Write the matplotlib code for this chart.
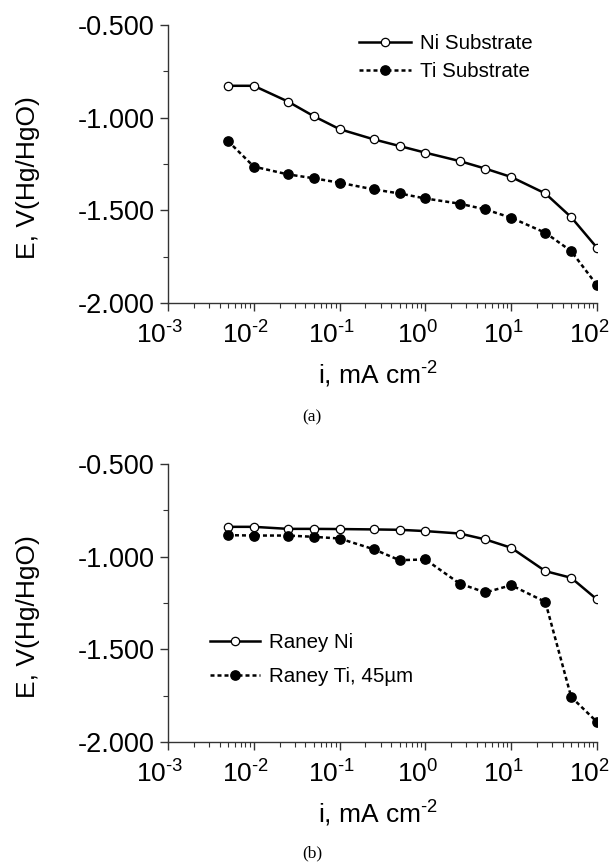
import numpy as np
import matplotlib
matplotlib.use("Agg")
import matplotlib.pyplot as plt
import matplotlib.transforms as mtransforms
from matplotlib.ticker import MultipleLocator, FormatStrFormatter, LogLocator, FuncFormatter

plt.rcParams['font.family'] = ['Liberation Sans', 'DejaVu Sans']
plt.rcParams['axes.unicode_minus'] = False
plt.rcParams['mathtext.fontset'] = 'custom'
plt.rcParams['mathtext.rm'] = 'Liberation Sans'
plt.rcParams['mathtext.it'] = 'Liberation Sans'

# current density, mA cm-2
current = [0.005, 0.01, 0.025, 0.05, 0.1, 0.25, 0.5, 1, 2.5, 5, 10, 25, 50, 100]

# (a) substrates
ni_substrate = [-0.828, -0.828, -0.913, -0.992, -1.062, -1.117, -1.153, -1.189,
                -1.234, -1.275, -1.320, -1.409, -1.537, -1.702]
ti_substrate = [-1.126, -1.264, -1.306, -1.327, -1.351, -1.387, -1.409, -1.436,
                -1.464, -1.495, -1.540, -1.621, -1.720, -1.904]

# (b) Raney coatings
raney_ni = [-0.839, -0.839, -0.850, -0.850, -0.851, -0.853, -0.855, -0.862,
            -0.875, -0.907, -0.952, -1.078, -1.114, -1.231]
raney_ti = [-0.884, -0.886, -0.886, -0.893, -0.902, -0.960, -1.019, -1.015,
            -1.145, -1.193, -1.154, -1.244, -1.757, -1.892]

W, H = 614, 864
fig = plt.figure(figsize=(W / 100, H / 100), dpi=100)


def make_axes(top_px, bottom_px):
    left, right = 168, 597
    ax = fig.add_axes([left / W, 1 - bottom_px / H, (right - left) / W,
                       (bottom_px - top_px) / H])
    return ax


def pow_label(v, pos):
    e = int(round(np.log10(v)))
    return r'$10^{\text{%d}}$' % e


def style(ax):
    ax.set_xscale('log')
    ax.set_xlim(1e-3, 1e2)
    ax.set_ylim(-2.0, -0.5)
    for s in ['top', 'right']:
        ax.spines[s].set_visible(False)
    for s in ['left', 'bottom']:
        ax.spines[s].set_color('#333333')
        ax.spines[s].set_linewidth(1.0)
    ax.yaxis.set_major_locator(MultipleLocator(0.5))
    ax.yaxis.set_minor_locator(MultipleLocator(0.25))
    ax.yaxis.set_major_formatter(FormatStrFormatter('%.3f'))
    ax.xaxis.set_major_locator(LogLocator(base=10, numticks=10))
    ax.xaxis.set_minor_locator(LogLocator(base=10, subs=np.arange(2, 10), numticks=20))
    ax.xaxis.set_major_formatter(FuncFormatter(pow_label))
    ax.tick_params(which='major', direction='out', length=6, width=1,
                   color='#333333', labelsize=19.5, pad=3.5)
    ax.tick_params(which='minor', direction='out', length=3.5, width=0.8,
                   color='#333333')
    ax.tick_params(axis='x', which='major', labelsize=19, pad=7)
    ax.set_ylabel('E, V(Hg/HgO)', fontsize=19)
    ax.set_xlabel('i, mA cm$^{\\text{-2}}$', fontsize=19)
    ax.yaxis.set_label_coords(-0.298, 0.45)
    ax.xaxis.set_label_coords(0.49, -0.205)
    # labels sit a little left of their ticks in the original
    shift = mtransforms.ScaledTranslation(-8 / 100, 0, fig.dpi_scale_trans)
    for lab in ax.get_xticklabels():
        lab.set_transform(lab.get_transform() + shift)


solid_kw = dict(color='black', linestyle='-', linewidth=1.8, marker='o',
                markersize=6, markerfacecolor='white',
                markeredgecolor='black', markeredgewidth=0.9)
dot_kw = dict(color='black', linestyle=(0, (1.6, 1.2)), linewidth=1.8,
              marker='o', markersize=6.7, markerfacecolor='black',
              markeredgecolor='black')

# (a)
ax1 = make_axes(25, 303)
style(ax1)
ax1.plot(current, ni_substrate, label='Ni Substrate', **solid_kw)
ax1.plot(current, ti_substrate, label='Ti Substrate', **dot_kw)
ax1.legend(loc='upper left', bbox_to_anchor=(0.445, 0.968), frameon=False,
           fontsize=14.8, handlelength=2.55, handletextpad=0.4,
           labelspacing=0.45, borderpad=0, borderaxespad=0)
fig.text(312 / W, 1 - 417 / H, '(a)', ha='center', va='center',
         family='Liberation Serif', fontsize=12.5)

# (b)
ax2 = make_axes(464, 742)
style(ax2)
ax2.plot(current, raney_ni, label='Raney Ni', **solid_kw)
ax2.plot(current, raney_ti, label='Raney Ti, 45µm', **dot_kw)
ax2.legend(loc='upper left', bbox_to_anchor=(0.098, 0.392), frameon=False,
           fontsize=14.8, handlelength=2.45, handletextpad=0.4,
           labelspacing=0.73, borderpad=0, borderaxespad=0)
fig.text(312 / W, 1 - 853 / H, '(b)', ha='center', va='center',
         family='Liberation Serif', fontsize=12.5)

fig.savefig('out.png', dpi=100)
